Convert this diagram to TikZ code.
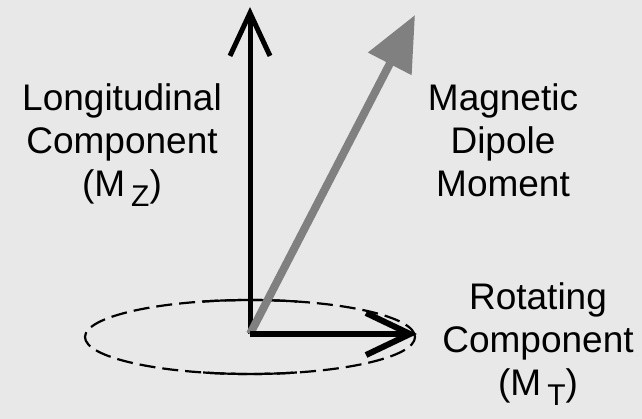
\documentclass[tikz,border=0pt]{standalone}
\usepackage{fontspec}
\setmainfont{Liberation Sans}
\usetikzlibrary{arrows.meta}
\newcommand{\lowsub}[1]{\hspace{6pt}\raisebox{-10pt}{\fontsize{30}{30}\selectfont #1}}
\begin{document}
\begin{tikzpicture}[
  x=1pt, y=-1pt,
  txt/.style={font=\fontsize{37}{43}\selectfont, align=center, anchor=base, inner sep=0pt},
  axis/.style={line width=5pt, -{Straight Barb[length=43pt,width=40pt]}},
  spin/.style={line width=6pt, -{Straight Barb[length=44pt,width=42pt]}},
  dipole/.style={black!50, line width=8pt, -{Triangle[length=55pt,width=47pt]}},
  ring/.style={line width=2.2pt, dash pattern=on 16pt off 7pt},
  ringsolid/.style={line width=2.2pt}
]
\fill[black!9] (0,0) rectangle (642,419);
\coordinate (E) at (250,337);
\coordinate (O) at (250,334);
\coordinate (Ztip) at (250,7);
\coordinate (Mtip) at (415,15);
\coordinate (Ttip) at (417,334);
\draw[ring] (E) ellipse[x radius=165pt, y radius=37pt];
\draw[ringsolid] ([shift={(73.5:165pt and 37pt)}]E) arc[start angle=73.5, end angle=106.5, x radius=165pt, y radius=37pt];
\draw[ringsolid] ([shift={(253.5:165pt and 37pt)}]E) arc[start angle=253.5, end angle=286.5, x radius=165pt, y radius=37pt];
\draw[axis] (O) -- (Ztip);
\draw[dipole] (O) -- (Mtip);
\draw[spin] (O) -- (Ttip);
\node[txt] (lz) at (122,197) {Longitudinal\\Component\\(M\lowsub{Z})};
\node[txt] (dm) at (503,197) {Magnetic\\Dipole\\Moment};
\node[txt] (rt) at (538,395) {Rotating\\Component\\(M\lowsub{T})};
\end{tikzpicture}
\end{document}
